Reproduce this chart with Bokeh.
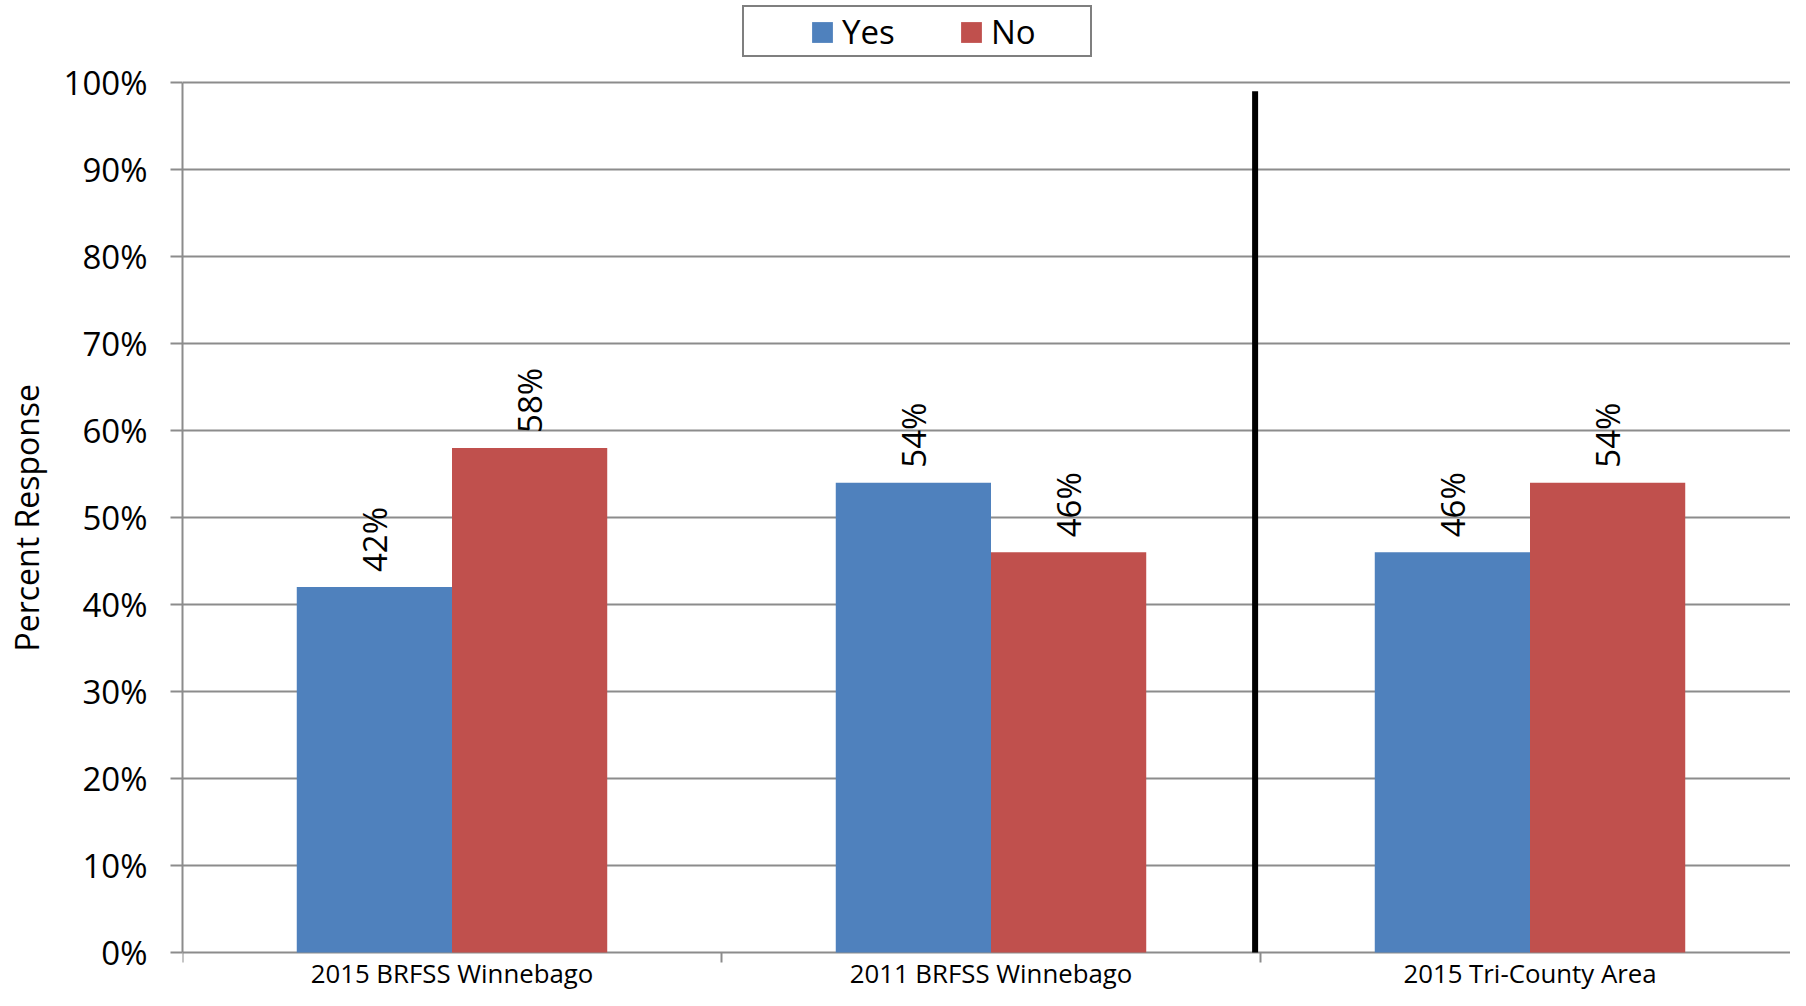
import numpy as np
from bokeh.plotting import figure
from bokeh.models import (Range1d, FixedTicker, Legend, LegendItem, Title,
                          PrintfTickFormatter, ColumnDataSource)
from bokeh.transform import dodge
from bokeh.core.properties import value
from bokeh.embed import file_html
from bokeh.resources import INLINE

# ---- data ----
categories = ["2015 BRFSS Winnebago", "2011 BRFSS Winnebago", "2015 Tri-County Area"]
series_names = ["Yes", "No"]
yes_values = [42, 54, 46]
no_values = [58, 46, 54]
y_ticks = [0, 10, 20, 30, 40, 50, 60, 70, 80, 90, 100]
y_axis_title = "Percent Response"
separator_after_index = 1   # black divider between 2nd and 3rd group
separator_top = 99

# ---- styles / layout ----
FONT = "Open Sans"
BLUE = "#4F81BD"
RED = "#C0504D"
GRID = "#8C8C8C"
BAR_W = 0.288
W, H = 1790, 990
LEFT = 182
PX_PER_UNIT = 8.7          # 870 px for 0..100 %
TOP_PAD_PX = 82            # figure top -> 100 % line
BOTTOM_PAD_PX = H - 952    # 0 % line -> figure bottom
PX_PER_GROUP = 539         # width of one category slot

n = len(categories)
centers = [i + 0.5 for i in range(n)]
y_lo = -BOTTOM_PAD_PX / PX_PER_UNIT
y_hi = 100 + TOP_PAD_PX / PX_PER_UNIT
x_hi = (W - LEFT) / PX_PER_GROUP

src = ColumnDataSource(dict(
    xc=centers,
    cat=categories,
    yes=yes_values,
    no=no_values,
    yes_lbl=[f"{v}%" for v in yes_values],
    no_lbl=[f"{v}%" for v in no_values],
))

p = figure(width=W, height=H, output_backend="svg", toolbar_location=None,
           x_range=Range1d(0, x_hi), y_range=Range1d(y_lo, y_hi),
           x_axis_location=None, title_location=None,
           min_border_left=LEFT, min_border_right=0, min_border_top=0,
           min_border_bottom=0)
p.outline_line_color = None
p.background_fill_color = "white"
p.border_fill_color = "white"

r_yes = p.vbar(x=dodge("xc", -BAR_W / 2), top="yes", width=BAR_W, source=src,
               fill_color=BLUE, line_color=None)
r_no = p.vbar(x=dodge("xc", BAR_W / 2), top="no", width=BAR_W, source=src,
              fill_color=RED, line_color=None)

lbl_kw = dict(angle=np.pi / 2, text_align="left", text_baseline="middle",
              text_font=value(FONT), text_font_size="33px", text_color="black",
              y_offset=-15)
p.text(x=dodge("xc", -BAR_W / 2), y="yes", text="yes_lbl", source=src, **lbl_kw)
p.text(x=dodge("xc", BAR_W / 2), y="no", text="no_lbl", source=src, **lbl_kw)

# divider line
sep_x = centers[separator_after_index] + 0.49
p.segment(x0=[sep_x], y0=[0], x1=[sep_x], y1=[separator_top],
          line_color="black", line_width=6)

# category axis drawn inside the frame: boundary ticks + labels
bounds = [float(i) for i in range(n + 1)]
tick_len = 10 / PX_PER_UNIT
p.segment(x0=bounds, y0=[0] * len(bounds), x1=bounds, y1=[-tick_len] * len(bounds),
          line_color=GRID, line_width=2)
p.text(x="xc", y=0, text="cat", source=src, text_align="center",
       text_baseline="top", y_offset=2, text_font=value(FONT),
       text_font_size="25.8px", text_color="black")

# ---- y axis ----
yax = p.yaxis[0]
yax.bounds = (0, 100)
yax.ticker = FixedTicker(ticks=y_ticks)
yax.formatter = PrintfTickFormatter(format="%d%%")
yax.axis_line_color = GRID
yax.axis_line_width = 2
yax.major_tick_line_color = GRID
yax.major_tick_line_width = 2
yax.major_tick_out = 12
yax.major_tick_in = 0
yax.minor_tick_line_color = None
yax.major_label_text_font = FONT
yax.major_label_text_font_size = "33px"
yax.major_label_text_color = "black"
yax.major_label_standoff = 23
# blank spacer label so that the title sits further out
yax.axis_label = " "
yax.axis_label_text_font_size = "1px"
yax.axis_label_standoff = 7

# y axis title, centred on the 0..100 span rather than the whole frame
ytitle = Title(text=y_axis_title, align="left", offset=339,
               text_font=FONT, text_font_size="32px", text_font_style="normal",
               text_color="black", standoff=4)
p.add_layout(ytitle, "left")

p.xgrid.visible = False
p.ygrid.ticker = FixedTicker(ticks=y_ticks)
p.ygrid.grid_line_color = GRID
p.ygrid.grid_line_width = 2

# ---- legend (inside frame, above the 100 % line) ----
dummy = p.scatter(x=[], y=[], fill_alpha=0, line_alpha=0)
box = Legend(items=[LegendItem(label=" ", renderers=[dummy])],
             location=(742 - LEFT, H - 57), orientation="horizontal",
             padding=0, margin=0, glyph_width=1, glyph_height=1,
             label_standoff=0, label_width=345, label_height=48,
             border_line_color="black", border_line_width=2,
             background_fill_color="white", background_fill_alpha=1)
p.add_layout(box, "center")

leg = Legend(items=[LegendItem(label=series_names[0], renderers=[r_yes]),
                    LegendItem(label=series_names[1], renderers=[r_no])],
             location=(627, H - 54), orientation="horizontal",
             padding=0, margin=0, glyph_width=26, glyph_height=26,
             label_standoff=7, label_width=80, spacing=36,
             label_text_font=FONT, label_text_font_size="33px",
             label_text_color="black",
             border_line_alpha=0, background_fill_alpha=0)
p.add_layout(leg, "center")

open("out.html", "w").write(file_html(p, INLINE))
